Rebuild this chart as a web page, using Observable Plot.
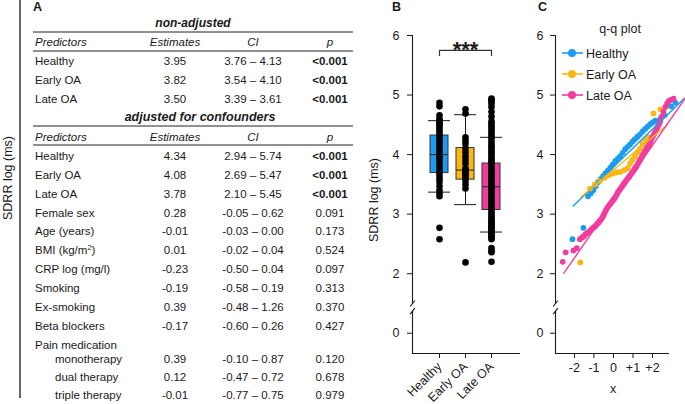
<!DOCTYPE html>
<html><head><meta charset="utf-8">
<script src="https://cdn.jsdelivr.net/npm/d3@7"></script>
<script src="https://cdn.jsdelivr.net/npm/@observablehq/plot@0.6"></script>
<style>
html,body{margin:0;padding:0;background:#fff;}
#fig{position:relative;width:685px;height:404px;overflow:hidden;background:#fff;}
#fig > svg, #fig > figure{position:absolute;top:0;margin:0;}
</style></head>
<body><div id="fig"></div>
<script>
// ---------------- data ----------------
const groups = ["Healthy", "Early OA", "Late OA"];
const groupColors = ["#1b9cf2", "#fbb814", "#f23c9e"];
const yTicks = [0, 2, 3, 4, 5, 6];
const qqXTicks = [-2, -1, 0, 1, 2];
const qqXTickLabels = ["-2", "-1", "0", "+1", "+2"];
const yLabel = "SDRR log (ms)";
const qqTitle = "q-q plot";
const qqXLabel = "x";

// box plot summaries (Healthy, Early OA, Late OA)
const boxQ1 = [3.69, 3.58, 3.07];
const boxMedian = [4.00, 3.74, 3.46];
const boxQ3 = [4.32, 4.11, 3.85];
const whiskerLow = [3.37, 3.16, 2.70];
const whiskerHigh = [4.57, 4.67, 4.29];

// significance bracket
const sigFrom = "Healthy", sigTo = "Late OA", sigMid = "Early OA", sigLabel = "***";

// q-q observations: [theoretical quantile, SDRR log]
const healthyQQ = [[-2.10,2.58],[-1.54,2.77],[-1.30,3.30],[-1.16,3.35],[-1.03,3.40],[-0.91,3.47],[-0.78,3.54],[-0.66,3.59],[-0.53,3.64],[-0.41,3.69],[-0.29,3.73],[-0.16,3.78],[-0.04,3.83],[0.09,3.89],[0.21,3.93],[0.34,3.97],[0.47,4.03],[0.60,4.09],[0.72,4.13],[0.85,4.17],[0.98,4.22],[1.10,4.26],[1.23,4.30],[1.36,4.34],[1.49,4.39],[1.62,4.43],[1.75,4.47],[1.88,4.51],[2.01,4.54],[2.14,4.57],[2.40,4.60],[2.62,4.66],[2.95,4.81],[3.18,4.87]];
const earlyQQ = [[-1.70,2.19],[-1.20,3.43],[-0.95,3.50],[-0.70,3.56],[-0.45,3.61],[-0.25,3.65],[-0.05,3.68],[0.15,3.70],[0.35,3.71],[0.55,3.74],[0.72,3.77],[0.85,3.85],[0.97,3.91],[1.10,3.97],[1.23,4.04],[1.36,4.10],[1.49,4.18],[1.64,4.24],[1.79,4.29],[2.05,4.69],[2.40,4.76]];
const lateQQ = [[-2.60,2.20],[-2.45,2.36],[-2.05,2.39],[-1.88,2.43],[-1.72,2.58],[-1.60,2.61],[-1.52,2.63],[-1.44,2.66],[-1.36,2.68],[-1.28,2.70],[-1.20,2.72],[-1.12,2.75],[-1.04,2.77],[-0.97,2.79],[-0.90,2.81],[-0.83,2.84],[-0.76,2.86],[-0.69,2.89],[-0.62,2.92],[-0.56,2.95],[-0.50,2.99],[-0.44,3.03],[-0.38,3.07],[-0.31,3.11],[-0.24,3.14],[-0.17,3.17],[-0.10,3.20],[-0.03,3.23],[0.04,3.26],[0.10,3.29],[0.17,3.33],[0.23,3.37],[0.30,3.40],[0.36,3.43],[0.43,3.46],[0.49,3.49],[0.56,3.52],[0.62,3.55],[0.69,3.58],[0.75,3.61],[0.81,3.63],[0.87,3.66],[0.94,3.69],[1.00,3.72],[1.07,3.75],[1.13,3.78],[1.19,3.81],[1.26,3.85],[1.32,3.89],[1.38,3.92],[1.45,3.96],[1.51,4.00],[1.57,4.03],[1.64,4.07],[1.70,4.11],[1.77,4.14],[1.83,4.18],[1.90,4.22],[1.96,4.27],[2.02,4.31],[2.09,4.35],[2.15,4.39],[2.22,4.44],[2.28,4.48],[2.34,4.52],[2.40,4.56],[2.48,4.64],[2.56,4.72],[2.66,4.80],[2.75,4.86],[2.84,4.90],[2.95,4.92],[3.08,4.94]];

// q-q reference lines (start / end)
const qqLineX1 = [-2.09, -1.70, -2.56];
const qqLineY1 = [3.13, 3.28, 2.00];
const qqLineX2 = [3.65, 2.72, 3.70];
const qqLineY2 = [4.95, 4.49, 4.96];

// table A
const colHeaders = ["Predictors", "Estimates", "CI", "p"];
const nonAdjTitle = "non-adjusted";
const adjTitle = "adjusted for confounders";
const nonAdjPredictors = ["Healthy", "Early OA", "Late OA"];
const nonAdjEst = ["3.95", "3.82", "3.50"];
const nonAdjCI = ["3.76 – 4.13", "3.54 – 4.10", "3.39 – 3.61"];
const nonAdjP = ["<0.001", "<0.001", "<0.001"];
const adjPredictors = ["Healthy", "Early OA", "Late OA", "Female sex", "Age (years)", "BMI (kg/m²)", "CRP log (mg/l)", "Smoking", "Ex-smoking", "Beta blockers", "Pain medication", "monotherapy", "dual therapy", "triple therapy"];
const adjEst = ["4.34", "4.08", "3.78", "0.28", "-0.01", "0.01", "-0.23", "-0.19", "0.39", "-0.17", "", "0.39", "0.12", "-0.01"];
const adjCI = ["2.94 – 5.74", "2.69 – 5.47", "2.10 – 5.45", "-0.05 – 0.62", "-0.03 – 0.00", "-0.02 – 0.04", "-0.50 – 0.04", "-0.58 – 0.19", "-0.48 – 1.26", "-0.60 – 0.26", "", "-0.10 – 0.87", "-0.47 – 0.72", "-0.77 – 0.75"];
const adjP = ["<0.001", "<0.001", "<0.001", "0.091", "0.173", "0.524", "0.097", "0.313", "0.370", "0.427", "", "0.120", "0.678", "0.979"];
const adjIndented = [false,false,false,false,false,false,false,false,false,false,false,true,true,true];
const panelLetters = ["A", "B", "C"];

// ---------------- build ----------------
const FONT = '"Liberation Sans", Arial, Helvetica, sans-serif';
const INK = "#1a1a1a";
const fig = document.getElementById("fig");

const boxes = groups.map((g, i) => ({group: g, q1: boxQ1[i], med: boxMedian[i], q3: boxQ3[i], lo: whiskerLow[i], hi: whiskerHigh[i]}));
const obs = [healthyQQ, earlyQQ, lateQQ].flatMap((arr, i) => arr.map(([q, v]) => ({group: groups[i], q, v})));
const qqLines = groups.map((g, i) => ({group: g, x1: qqLineX1[i], y1: qqLineY1[i], x2: qqLineX2[i], y2: qqLineY2[i]}));

const BRACKET_TOP = 5.75, BRACKET_FOOT = 5.665, STAR_Y = 5.76;
const bracket = [{group: sigFrom, y: BRACKET_FOOT}, {group: sigFrom, y: BRACKET_TOP}, {group: sigTo, y: BRACKET_TOP}, {group: sigTo, y: BRACKET_FOOT}];
const stars = [{group: sigMid, y: STAR_Y, label: sigLabel}];

// broken y axis: an upper plot (1.5–6) and a lower plot (-0.34–0.37) with the same unit length
const H = 404;
const upperY = {domain: [1.5, 6], axis: null};      // frame 35 → 303
const lowerY = {domain: [-0.34, 0.37], axis: null};  // frame 310.7 → 353
const upperM = {marginTop: 35, marginBottom: H - 303};
const lowerM = {marginTop: 310.7, marginBottom: 51};
const upperTicks = yTicks.filter(t => t >= 1.5), lowerTicks = yTicks.filter(t => t < 1.5);
const intFmt = d3.format("d");
// axis-break mark: a short diagonal drawn as a custom dot symbol at the frame's left edge
const slashSymbol = {draw(ctx, size) { const r = Math.sqrt(size / Math.PI); ctx.moveTo(-0.8 * r, r); ctx.lineTo(0.8 * r, -r); }};
const slash = (y) => Plot.dot([{y}], {y: "y", frameAnchor: "left", symbol: slashSymbol, r: 3, stroke: INK, strokeWidth: 1.1, fill: "none"});
const baseStyle = {fontFamily: FONT, fontSize: "12.5px", color: INK, background: "transparent", overflow: "visible"};
const frameL = () => Plot.frame({anchor: "left", stroke: INK, strokeWidth: 1.1});
const frameB = () => Plot.frame({anchor: "bottom", stroke: INK, strokeWidth: 1.1});

function place(plot, left) { plot.style.left = left + "px"; fig.appendChild(plot); }

// ---- Panel B ----
const bX = {type: "band", domain: groups, paddingInner: 0.296, paddingOuter: 0.63, axis: null};
const bDims = {width: 170, height: H, marginLeft: 57, marginRight: 6, style: baseStyle};
place(Plot.plot({
  ...bDims, ...lowerM, x: bX, y: lowerY,
  marks: [
    frameL(), frameB(), slash(0.37),
    Plot.axisY({ticks: lowerTicks, tickFormat: intFmt, tickSize: 5, tickPadding: 8, label: null}),
    Plot.axisX({tickRotate: -45, tickSize: 5, tickPadding: 6, label: null})
  ]
}), 355);
place(Plot.plot({
  ...bDims, ...upperM, x: bX, y: upperY,
  color: {domain: groups, range: groupColors},
  marks: [
    frameL(), slash(1.5),
    Plot.axisY({ticks: upperTicks, tickFormat: intFmt, tickSize: 5, tickPadding: 8, label: null}),
    Plot.ruleX(boxes, {x: "group", y1: "lo", y2: "hi", stroke: INK}),
    Plot.barY(boxes, {x: "group", y1: "q1", y2: "q3", fill: "group", stroke: "#333", strokeWidth: 1}),
    Plot.tickY(boxes, {x: "group", y: "med", stroke: "#222"}),
    Plot.tickY(boxes, {x: "group", y: "lo", stroke: INK, insetLeft: -2, insetRight: -2}),
    Plot.tickY(boxes, {x: "group", y: "hi", stroke: INK, insetLeft: -2, insetRight: -2}),
    Plot.dot(obs, {x: "group", y: "v", r: 3.3, fill: "black"}),
    Plot.line(bracket, {x: "group", y: "y", stroke: "#333", strokeWidth: 1.2}),
    Plot.text(stars, {x: "group", y: "y", text: "label", fontSize: 22, fontWeight: "bold", fill: INK})
  ]
}), 355);

// ---- Panel C ----
const cX = {domain: [-2.97, 2.82], axis: null};
const cDims = {width: 160, height: H, marginLeft: 30, marginRight: 17, style: baseStyle};
place(Plot.plot({
  ...cDims, ...lowerM, x: cX, y: lowerY,
  marks: [
    frameL(), frameB(), slash(0.37),
    Plot.axisY({ticks: lowerTicks, tickFormat: intFmt, tickSize: 5, tickPadding: 7, label: null}),
    Plot.axisX({ticks: qqXTicks, tickFormat: d => qqXTickLabels[qqXTicks.indexOf(d)], tickSize: 5, tickPadding: 5, label: null}),
    Plot.text([qqXLabel], {frameAnchor: "bottom", dx: 1, dy: 39, text: d => d, fill: INK})
  ]
}), 525);
place(Plot.plot({
  ...cDims, ...upperM, x: cX, y: upperY,
  color: {domain: groups, range: groupColors},
  marks: [
    frameL(), slash(1.5),
    Plot.axisY({ticks: upperTicks, tickFormat: intFmt, tickSize: 5, tickPadding: 7, label: null}),
    Plot.dot(obs, {x: "q", y: "v", fill: "group", r: 2.9}),
    Plot.link(qqLines, {x1: "x1", y1: "y1", x2: "x2", y2: "y2", stroke: "group", strokeWidth: 1.4}),
    Plot.text([qqTitle], {frameAnchor: "top", dx: 8, dy: -11, text: d => d, fill: INK})
  ]
}), 525);

// ---------------- overlay: table, letters, labels, legend ----------------
const svg = d3.select(fig).append("svg").attr("width", 685).attr("height", 404)
  .style("left", "0px").style("pointer-events", "none")
  .attr("font-family", FONT).attr("fill", INK);

[[33, 11], [392, 11], [538, 11]].forEach(([x, y], i) =>
  svg.append("text").attr("x", x).attr("y", y).attr("font-size", 12.5).attr("font-weight", "bold").text(panelLetters[i]));

svg.append("line").attr("x1", 20).attr("x2", 20).attr("y1", 0).attr("y2", 398).attr("stroke", "#333").attr("stroke-width", 1.5);
svg.append("text").attr("transform", "translate(12,178) rotate(-90)").attr("text-anchor", "middle").attr("font-size", 12.5).text(yLabel);
svg.append("text").attr("transform", "translate(378,200) rotate(-90)").attr("text-anchor", "middle").attr("font-size", 12.5).text(yLabel);

const T = svg.append("g").attr("font-size", 11.5);
const colX = {pred: 35, est: 175, ci: 253, p: 330};
const hline = y => T.append("line").attr("x1", 33).attr("x2", 353).attr("y1", y).attr("y2", y).attr("stroke", "#222").attr("stroke-width", 1);
function header(cy) {
  const b = cy + 4;
  T.append("text").attr("x", colX.pred).attr("y", b).attr("font-style", "italic").text(colHeaders[0]);
  T.append("text").attr("x", colX.est).attr("y", b).attr("text-anchor", "middle").attr("font-style", "italic").text(colHeaders[1]);
  T.append("text").attr("x", colX.ci).attr("y", b).attr("text-anchor", "middle").attr("font-style", "italic").text(colHeaders[2]);
  T.append("text").attr("x", colX.p).attr("y", b).attr("text-anchor", "middle").attr("font-style", "italic").text(colHeaders[3]);
}
function row(cy, pred, est, ci, p, indent) {
  const b = cy + 4;
  const t = T.append("text").attr("x", indent ? 55 : colX.pred).attr("y", b);
  if (pred.includes("²")) {
    const [a, c] = pred.split("²");
    t.append("tspan").text(a);
    t.append("tspan").attr("dy", -4).attr("font-size", 7.5).text("2");
    t.append("tspan").attr("dy", 4).text(c);
  } else t.text(pred);
  T.append("text").attr("x", colX.est).attr("y", b).attr("text-anchor", "middle").text(est);
  T.append("text").attr("x", colX.ci).attr("y", b).attr("text-anchor", "middle").text(ci);
  T.append("text").attr("x", colX.p).attr("y", b).attr("text-anchor", "middle")
    .attr("font-weight", p.startsWith("<") ? "bold" : null).text(p);
}
T.append("text").attr("x", 193).attr("y", 27).attr("text-anchor", "middle").attr("font-weight", "bold").attr("font-style", "italic").attr("font-size", 12).text(nonAdjTitle);
hline(32);
header(42);
hline(51);
nonAdjPredictors.forEach((d, i) => row(61 + 19 * i, d, nonAdjEst[i], nonAdjCI[i], nonAdjP[i], false));
T.append("text").attr("x", 200).attr("y", 121).attr("text-anchor", "middle").attr("font-weight", "bold").attr("font-style", "italic").attr("font-size", 12.5).text(adjTitle);
hline(126);
header(137);
hline(145);
adjPredictors.forEach((d, i) => {
  const cy = i <= 10 ? 156 + 18.85 * i : 359 + 18 * (i - 11);
  row(cy, d, adjEst[i], adjCI[i], adjP[i], adjIndented[i]);
});

const L = svg.append("g").attr("font-size", 12.5);
groups.forEach((g, i) => {
  const cy = 53 + 21 * i;
  L.append("line").attr("x1", 562).attr("x2", 583).attr("y1", cy).attr("y2", cy).attr("stroke", groupColors[i]).attr("stroke-width", 1.6);
  L.append("circle").attr("cx", 572).attr("cy", cy).attr("r", 4).attr("fill", groupColors[i]);
  L.append("text").attr("x", 586).attr("y", cy + 4.5).text(g);
});
</script>
</body></html>
